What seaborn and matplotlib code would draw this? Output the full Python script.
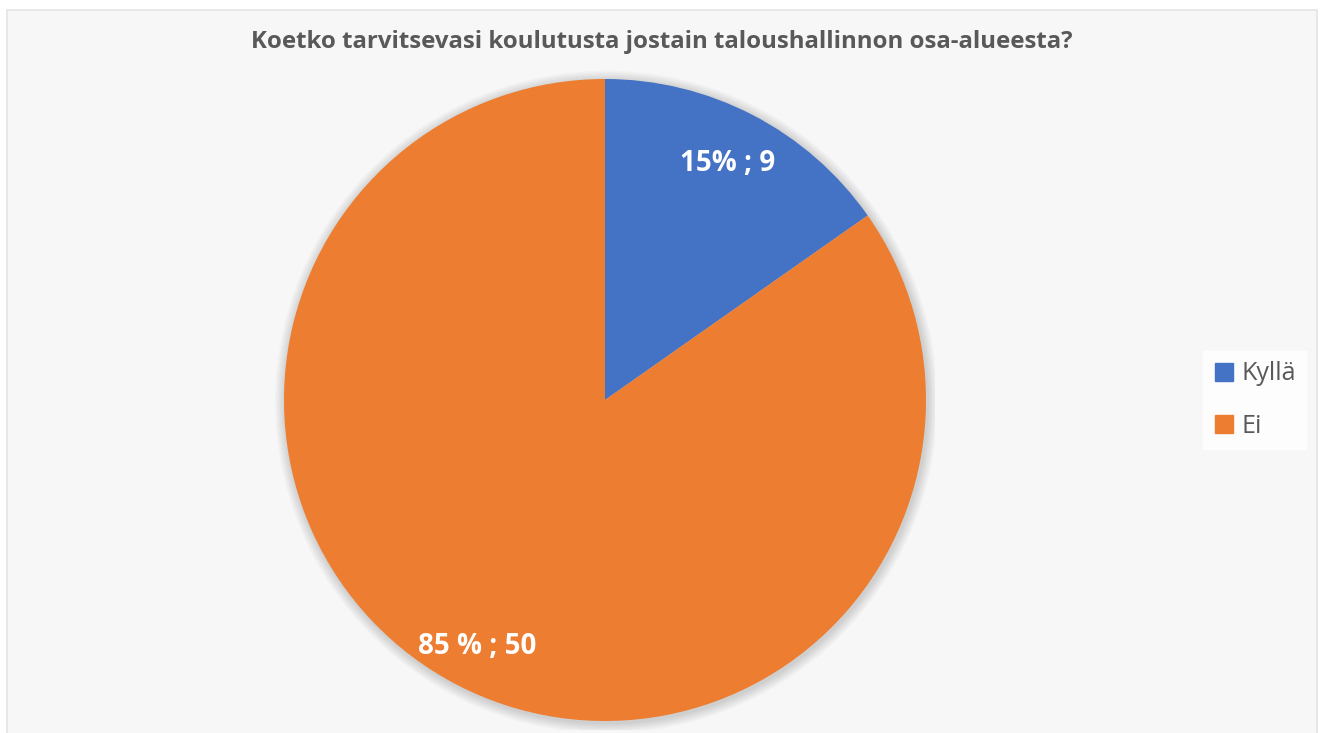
import matplotlib
matplotlib.use("Agg")
import matplotlib.pyplot as plt
import numpy as np
from matplotlib.patches import Rectangle, Circle
from matplotlib.lines import Line2D
import seaborn as sns

# Survey answers
categories = ["Kyllä", "Ei"]
counts = [9, 50]
pct_space = ["", " "]  # spacing used between number and % sign in each label
title = "Koetko tarvitsevasi koulutusta jostain taloushallinnon osa-alueesta?"

sns.set_theme(style="white")
plt.rcParams["font.family"] = ["Open Sans", "DejaVu Sans"]
colors = sns.color_palette(["#4472C4", "#ED7D31"])

W, H = 1324, 733
fig = plt.figure(figsize=(W / 100, H / 100), dpi=100)
fig.patch.set_facecolor("white")

# Chart area panel
fig.patches.append(Rectangle((7 / W, -0.05), 1310 / W, 1.05 - 10 / H,
                             transform=fig.transFigure, facecolor="#f7f7f7",
                             edgecolor="#e4e4e4", linewidth=1.2, zorder=-1))

cx, cy, half = 605, 400, 330
ax = fig.add_axes([(cx - half) / W, (H - cy - half) / H, 2 * half / W, 2 * half / H])
ax.set_zorder(1)
ax.set_facecolor("none")

# soft shadow under the pie
for i in range(8):
    ax.add_patch(Circle((0.004, -0.006), 1 + 0.004 * (i + 1), facecolor="#000000",
                        alpha=0.018, linewidth=0, zorder=0))

total = sum(counts)
idx = iter(range(len(counts)))


def fmt(pct):
    i = next(idx)
    n = counts[i]
    return f"{round(100 * n / total)}{pct_space[i]}% ; {n}"


wedges, texts, autotexts = ax.pie(
    counts, colors=colors, startangle=90, counterclock=False, radius=1,
    autopct=fmt, pctdistance=0.83,
    wedgeprops=dict(linewidth=0),
    textprops=dict(color="white", fontsize=20, fontweight="bold"),
)
# place each value label along its wedge's middle angle
label_radius = [0.83, 0.865]
for w, t, r in zip(wedges, autotexts, label_radius):
    mid = np.deg2rad((w.theta1 + w.theta2) / 2)
    t.set_position((r * np.cos(mid), r * np.sin(mid)))
    t.set_zorder(3)
for w in wedges:
    w.set_zorder(2)

lim = half / 321
ax.set_xlim(-lim, lim)
ax.set_ylim(-lim, lim)
ax.set_aspect("equal")
ax.axis("off")

fig.text(662 / W, 1 - 42 / H, title, ha="center", va="center",
         fontsize=17.3, fontweight="bold", color="#595959")

handles = [Line2D([0], [0], marker="s", linestyle="none", markersize=12.5,
                  markerfacecolor=c, markeredgecolor=c) for c in colors]
leg = fig.legend(handles, categories, loc="center left",
                 bbox_to_anchor=(1203 / W, 1 - 400 / H), frameon=True,
                 fontsize=18, labelcolor="#595959", handletextpad=0.3,
                 labelspacing=1.1, borderpad=0.4, handlelength=0.85,
                 borderaxespad=0, fancybox=False)
leg.get_frame().set_facecolor("white")
leg.get_frame().set_edgecolor("white")

fig.savefig("out.png", dpi=100)
